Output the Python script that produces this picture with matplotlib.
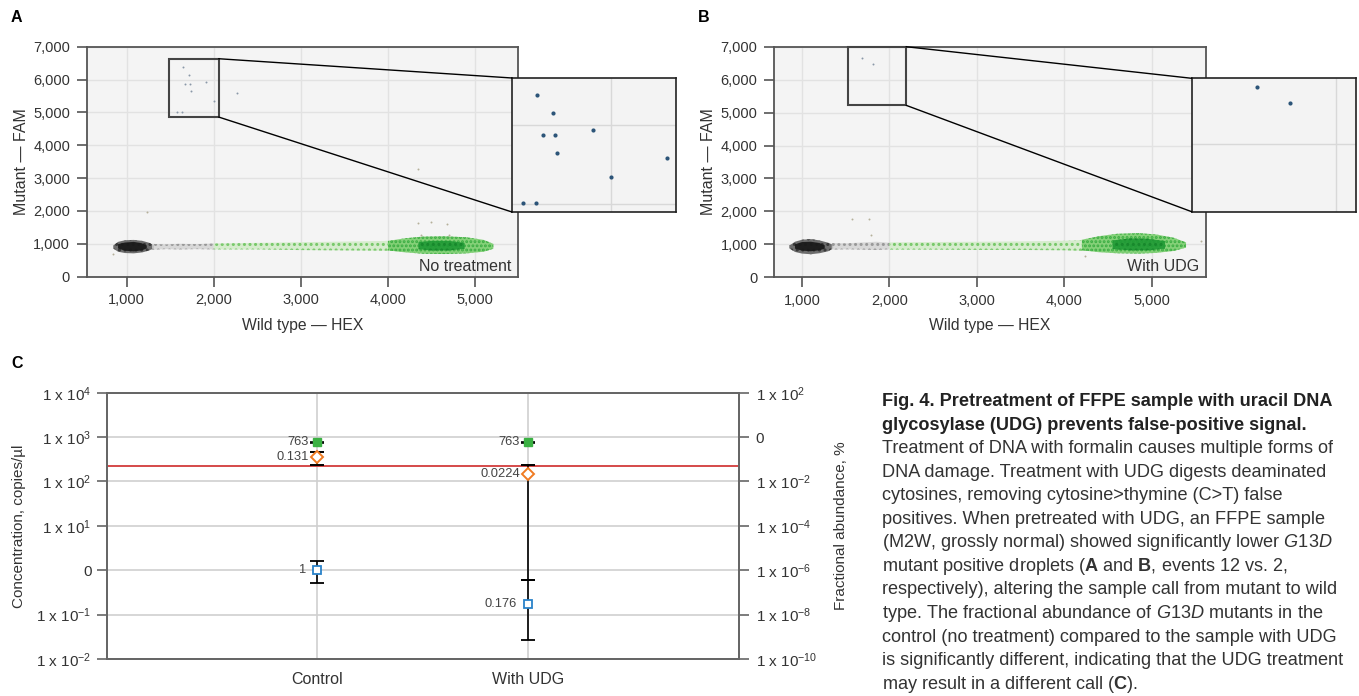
import matplotlib
matplotlib.use('Agg')
import matplotlib.pyplot as plt
from matplotlib.patches import Rectangle, ConnectionPatch
from matplotlib.ticker import FuncFormatter

plt.rcParams['font.family'] = ['Liberation Sans', 'DejaVu Sans']
plt.rcParams['mathtext.fontset'] = 'custom'
plt.rcParams['mathtext.rm'] = 'Liberation Sans'
plt.rcParams['mathtext.it'] = 'Liberation Sans:italic'
plt.rcParams['mathtext.bf'] = 'Liberation Sans:bold'
plt.rcParams['hatch.linewidth'] = 1.4

W, H = 1359, 696

# ---- panel A: droplet cloud outlines ----
a_neg_x = [845, 900, 980, 1080, 1180, 1260, 1310]
a_neg_lo = [860, 760, 720, 710, 740, 800, 870]
a_neg_hi = [950, 1060, 1110, 1120, 1090, 1030, 960]
a_negcore_x = [900, 980, 1080, 1170, 1230]
a_negcore_lo = [860, 790, 770, 800, 860]
a_negcore_hi = [990, 1040, 1060, 1020, 950]
a_rain_x = [1290, 1450, 1600, 1800, 2000]
a_rain_lo = [820, 840, 830, 840, 830]
a_rain_hi = [1000, 980, 1000, 990, 1010]
a_grn_x = [2000, 2500, 3000, 3500, 4000, 4150]
a_grn_lo = [830, 830, 810, 800, 790, 770]
a_grn_hi = [1010, 1030, 1050, 1070, 1090, 1120]
a_dense_x = [4000, 4200, 4400, 4650, 4900, 5100, 5210]
a_dense_lo = [800, 740, 700, 690, 710, 760, 850]
a_dense_hi = [1090, 1170, 1220, 1230, 1200, 1120, 1000]
a_core_x = [4350, 4500, 4700, 4880]
a_core_lo = [840, 800, 800, 850]
a_core_hi = [1050, 1090, 1090, 1030]
a_pos_x = [1642, 1718, 1672, 1730, 1910, 1741, 1998, 1577, 1638, 2269]
a_pos_y = [6382, 6148, 5874, 5874, 5934, 5642, 5347, 5021, 5021, 5581]
a_out_x = [1229, 4340, 4347, 4490, 4680, 4380, 4700, 845]
a_out_y = [1978, 3278, 1643, 1650, 1604, 1270, 1270, 690]

# ---- panel B ----
b_neg_x = [855, 920, 1000, 1100, 1200, 1300, 1357]
b_neg_lo = [880, 770, 720, 700, 730, 790, 880]
b_neg_hi = [960, 1080, 1140, 1160, 1120, 1050, 980]
b_negcore_x = [920, 1000, 1100, 1200, 1260]
b_negcore_lo = [870, 810, 790, 820, 870]
b_negcore_hi = [1000, 1070, 1080, 1040, 970]
b_rain_x = [1340, 1500, 1700, 1850, 2000]
b_rain_lo = [840, 850, 840, 830, 850]
b_rain_hi = [1040, 1030, 1060, 1080, 1050]
b_grn_x = [2000, 2500, 3000, 3500, 4000, 4250]
b_grn_lo = [840, 840, 830, 830, 820, 800]
b_grn_hi = [1060, 1070, 1080, 1090, 1110, 1140]
b_dense_x = [4200, 4400, 4600, 4850, 5050, 5250, 5390]
b_dense_lo = [820, 760, 730, 720, 740, 800, 900]
b_dense_hi = [1140, 1250, 1320, 1340, 1300, 1200, 1060]
b_core_x = [4550, 4750, 4950, 5150]
b_core_lo = [860, 820, 820, 870]
b_core_hi = [1120, 1180, 1170, 1100]
b_pos_x = [1681, 1814]
b_pos_y = [6648, 6466]
b_out_x = [1574, 1768, 1784, 4236, 5562]
b_out_y = [1779, 1761, 1293, 647, 1111]

# ---- panel C ----
groups = ['Control', 'With UDG']
wt_conc = [763, 763]
wt_lo = [740, 740]
wt_hi = [786, 786]
mut_conc = [1.0, 0.176]
mut_lo = [0.515, 0.0263]
mut_hi = [1.64, 0.589]
mut_labels = ['1', '0.176']
frac_abund = [0.131, 0.0224]
frac_lo = [0.0565, 3.5e-7]
frac_hi = [0.211, 0.0547]
threshold = 218

left_ticks = [1e-2, 1e-1, 1, 1e1, 1e2, 1e3, 1e4]
left_labels = ['1 x 10$^{-2}$', '1 x 10$^{-1}$', '0', '1 x 10$^{1}$',
               '1 x 10$^{2}$', '1 x 10$^{3}$', '1 x 10$^{4}$']
right_ticks = [1e-10, 1e-8, 1e-6, 1e-4, 1e-2, 1, 1e2]
right_labels = ['1 x 10$^{-10}$', '1 x 10$^{-8}$', '1 x 10$^{-6}$', '1 x 10$^{-4}$',
                '1 x 10$^{-2}$', '0', '1 x 10$^{2}$']

caption = [
    ('Fig. 4. Pretreatment of FFPE sample with uracil DNA', 'bold'),
    ('glycosylase (UDG) prevents false-positive signal.', 'bold'),
    ('Treatment of DNA with formalin causes multiple forms of', 'normal'),
    ('DNA damage. Treatment with UDG digests deaminated', 'normal'),
    ('cytosines, removing cytosine>thymine (C>T) false', 'normal'),
    ('positives. When pretreated with UDG, an FFPE sample', 'normal'),
    (r'(M2W, grossly normal) showed significantly lower $\mathit{G13D}$', 'normal'),
    (r'mutant positive droplets ($\mathbf{A}$ and $\mathbf{B}$, events 12 vs. 2,', 'normal'),
    ('respectively), altering the sample call from mutant to wild', 'normal'),
    (r'type. The fractional abundance of $\mathit{G13D}$ mutants in the', 'normal'),
    ('control (no treatment) compared to the sample with UDG', 'normal'),
    ('is significantly different, indicating that the UDG treatment', 'normal'),
    (r'may result in a different call ($\mathbf{C}$).', 'normal'),
]

TXT = '#333333'
SPINE = '#555555'


def px_rect(x0, y0, x1, y1):
    return [x0 / W, 1 - y1 / H, (x1 - x0) / W, (y1 - y0) / H]


fig = plt.figure(figsize=(W / 100, H / 100), dpi=100)


def droplet_panel(rect, xlim, bands, pos, out, tag, box, inset_rect, ixlim, iylim):
    ax = fig.add_axes(rect)
    ax.set_facecolor('#f4f4f4')
    ax.set_xticks([1000, 2000, 3000, 4000, 5000])
    ax.set_yticks(range(0, 7001, 1000))
    ax.set_xlim(*xlim)
    ax.set_ylim(0, 7000)
    fmt = FuncFormatter(lambda v, p: f'{int(v):,}')
    ax.xaxis.set_major_formatter(fmt)
    ax.yaxis.set_major_formatter(fmt)
    ax.grid(True, color='#e2e2e2', lw=1)
    ax.set_axisbelow(True)
    for s in ax.spines.values():
        s.set_color(SPINE)
        s.set_linewidth(1.3)
    ax.tick_params(direction='out', length=7, width=1.2, color=SPINE,
                   labelsize=10.5, labelcolor=TXT, pad=5)
    ax.set_xlabel('Wild type — HEX', fontsize=11.3, color=TXT, labelpad=7.5)
    ax.set_ylabel('Mutant — FAM', fontsize=11.5, color=TXT, labelpad=3)

    neg, negcore, rain, grn, dense, core = bands
    ax.fill_between(neg[0], neg[1], neg[2], facecolor='#555555', edgecolor='#2e2e2e',
                    hatch='...', lw=0, alpha=0.85, zorder=2)
    ax.fill_between(negcore[0], negcore[1], negcore[2], facecolor='#1a1a1a',
                    lw=0, alpha=0.95, zorder=2)
    ax.fill_between(rain[0], rain[1], rain[2], facecolor='#d2d2d2', edgecolor='#8a8a8a',
                    hatch='...', lw=0, alpha=0.8, zorder=2)
    ax.fill_between(grn[0], grn[1], grn[2], facecolor='#d3ecc9', edgecolor='#6cc45e',
                    hatch='...', lw=0, alpha=0.9, zorder=2)
    ax.fill_between(dense[0], dense[1], dense[2], facecolor='#7fcf72', edgecolor='#36ab3f',
                    hatch='....', lw=0, alpha=0.95, zorder=2)
    ax.fill_between(core[0], core[1], core[2], facecolor='#1f9a35', edgecolor='#16862b',
                    hatch='...', lw=0, alpha=0.9, zorder=2)

    ax.scatter(pos[0], pos[1], s=2, color='#8a98a8', zorder=3, lw=0)
    ax.scatter(out[0], out[1], s=2, color='#b5b09a', zorder=3, lw=0)

    ax.text(0.985, 0.045, tag, transform=ax.transAxes, ha='right', va='center',
            fontsize=11.5, color=TXT)

    bx0, bx1, by0, by1 = box
    ax.add_patch(Rectangle((bx0, by0), bx1 - bx0, by1 - by0, fill=False,
                           ec='#444444', lw=1.5, zorder=4, clip_on=False))

    ins = fig.add_axes(inset_rect)
    ins.set_facecolor('#f3f3f3')
    ins.set_xticks([1000, 2000, 3000])
    ins.set_yticks(range(0, 7001, 1000))
    ins.set_xlim(*ixlim)
    ins.set_ylim(*iylim)
    ins.grid(True, color='#d8d8d8', lw=1)
    ins.set_axisbelow(True)
    ins.tick_params(length=0, labelbottom=False, labelleft=False)
    for s in ins.spines.values():
        s.set_color('#222222')
        s.set_linewidth(1.2)
    ins.scatter(pos[0], pos[1], s=9, color='#2c5478', zorder=3, lw=0)

    for ya, yb in ((by1, 1), (by0, 0)):
        cp = ConnectionPatch(xyA=(bx1, ya), coordsA=ax.transData,
                             xyB=(0, yb), coordsB=ins.transAxes,
                             color='black', lw=1.0)
        fig.add_artist(cp)
    return ax


ax_a = droplet_panel(px_rect(86.7, 46.7, 517.7, 276.7), (540, 5490),
                     ((a_neg_x, a_neg_lo, a_neg_hi), (a_negcore_x, a_negcore_lo, a_negcore_hi),
                      (a_rain_x, a_rain_lo, a_rain_hi), (a_grn_x, a_grn_lo, a_grn_hi),
                      (a_dense_x, a_dense_lo, a_dense_hi), (a_core_x, a_core_lo, a_core_hi)),
                     (a_pos_x, a_pos_y), (a_out_x, a_out_y), 'No treatment',
                     (1488, 2055, 4860, 6634), px_rect(512, 78, 676, 212),
                     (1523, 2311), (4905, 6590))

ax_b = droplet_panel(px_rect(774, 46.7, 1205.7, 277.3), (680, 5615),
                     ((b_neg_x, b_neg_lo, b_neg_hi), (b_negcore_x, b_negcore_lo, b_negcore_hi),
                      (b_rain_x, b_rain_lo, b_rain_hi), (b_grn_x, b_grn_lo, b_grn_hi),
                      (b_dense_x, b_dense_lo, b_dense_hi), (b_core_x, b_core_lo, b_core_hi)),
                     (b_pos_x, b_pos_y), (b_out_x, b_out_y), 'With UDG',
                     (1528, 2190, 5221, 7000), px_rect(1191.7, 78.3, 1355.7, 211.7),
                     (1420, 2080), (5230, 6750))

# ---- panel C ----
ax_c = fig.add_axes(px_rect(106.7, 392.7, 739, 659))
ax_c.set_yscale('log')
ax_c.set_yticks(left_ticks)
ax_c.set_yticklabels(left_labels)
ax_c.set_ylim(1e-2, 1e4)
ax_c.minorticks_off()
ax_c.set_xticks(range(len(groups)))
ax_c.set_xticklabels(groups)
ax_c.set_xlim(-1, 2)
ax_c.grid(True, color='#cfcfcf', lw=1.2)
ax_c.set_axisbelow(True)
for s in ax_c.spines.values():
    s.set_color('#666666')
    s.set_linewidth(1.3)
ax_c.tick_params(axis='y', direction='out', length=7, width=1.2, color='#666666',
                 labelsize=11, labelcolor=TXT, pad=4)
ax_c.tick_params(axis='x', length=0, labelsize=11.5, labelcolor=TXT, pad=9)
ax_c.set_ylabel('Concentration, copies/µl', fontsize=11, color=TXT, labelpad=7)
ax_c.axhline(threshold, color='#d23c3c', lw=1.3, zorder=2)

xs = list(range(len(groups)))
ax_c.errorbar(xs, wt_conc,
              yerr=[[c - l for c, l in zip(wt_conc, wt_lo)], [h - c for c, h in zip(wt_conc, wt_hi)]],
              fmt='s', ms=6, mfc='#3bb143', mec='#3bb143', ecolor='black',
              elinewidth=1.2, capsize=5, capthick=1.2, zorder=4)
ax_c.errorbar(xs, mut_conc,
              yerr=[[c - l for c, l in zip(mut_conc, mut_lo)], [h - c for c, h in zip(mut_conc, mut_hi)]],
              fmt='s', ms=5.5, mfc='white', mec='#2a82c9', mew=1.3, ecolor='black',
              elinewidth=1.2, capsize=5, capthick=1.2, zorder=4)

ax_r = ax_c.twinx()
ax_r.set_yscale('log')
ax_r.set_yticks(right_ticks)
ax_r.set_yticklabels(right_labels)
ax_r.set_ylim(1e-10, 1e2)
ax_r.minorticks_off()
for s in ax_r.spines.values():
    s.set_color('#666666')
    s.set_linewidth(1.3)
ax_r.tick_params(axis='y', direction='out', length=7, width=1.2, color='#666666',
                 labelsize=11, labelcolor=TXT, pad=5)
ax_r.set_ylabel('Fractional abundance, %', fontsize=11, color=TXT, labelpad=12)
ax_r.errorbar(xs, frac_abund,
              yerr=[[c - l for c, l in zip(frac_abund, frac_lo)], [h - c for c, h in zip(frac_abund, frac_hi)]],
              fmt='D', ms=6, mfc='white', mec='#f07b22', mew=1.4, ecolor='black',
              elinewidth=1.2, capsize=5, capthick=1.2, zorder=4)

for x, v in zip(xs, wt_conc):
    ax_c.annotate(f'{v}', (x, v), xytext=(-6, 0), textcoords='offset points',
                  ha='right', va='center', fontsize=9.3, color='#444444')
for x, v, t in zip(xs, mut_conc, mut_labels):
    ax_c.annotate(t, (x, v), xytext=(-8, 0), textcoords='offset points',
                  ha='right', va='center', fontsize=9.3, color='#444444')
for x, v in zip(xs, frac_abund):
    ax_r.annotate(f'{v:g}', (x, v), xytext=(-6, 0), textcoords='offset points',
                  ha='right', va='center', fontsize=9.3, color='#444444')

# panel letters
fig.text(16 / W, 1 - 17 / H, 'A', fontsize=11.5, weight='bold', va='center', ha='center')
fig.text(704 / W, 1 - 17 / H, 'B', fontsize=11.5, weight='bold', va='center', ha='center')
fig.text(17 / W, 1 - 363 / H, 'C', fontsize=11.5, weight='bold', va='center', ha='center')

# caption
for i, (line, wt) in enumerate(caption):
    fig.text(881.5 / W, 1 - (401.5 + i * 23.55) / H, line, fontsize=13.05, weight=wt,
             color='#222222' if wt == 'bold' else '#333333', ha='left', va='center')

fig.savefig('out.png', dpi=100)
